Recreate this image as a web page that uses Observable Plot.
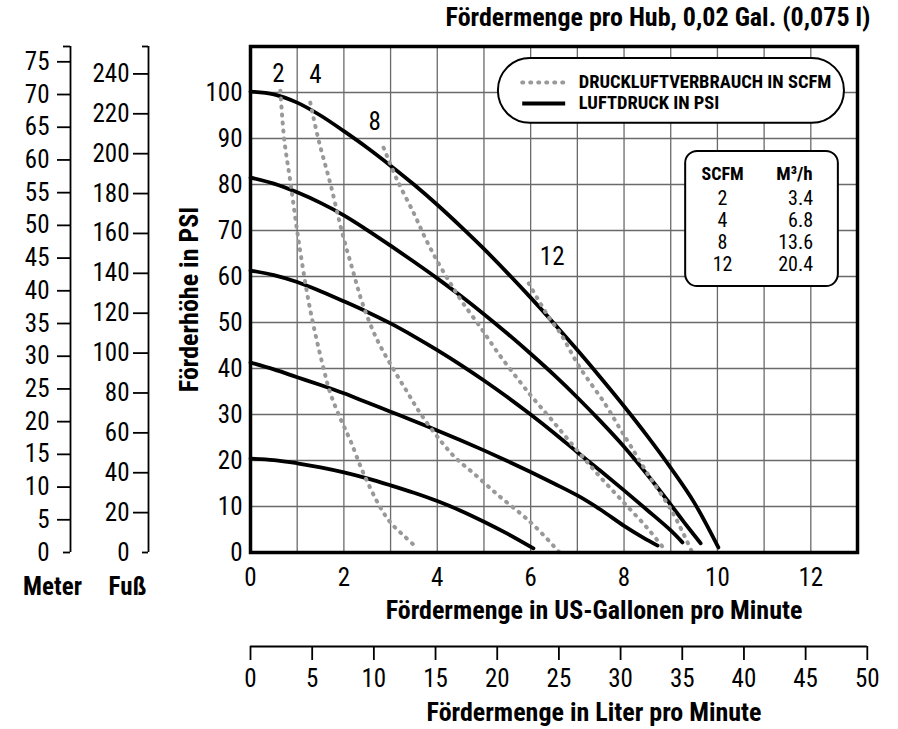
<!DOCTYPE html>
<html><head><meta charset="utf-8">
<script src="https://cdn.jsdelivr.net/npm/d3@7"></script>
<script src="https://cdn.jsdelivr.net/npm/@observablehq/plot@0.6"></script>
<style>html,body{margin:0;padding:0;background:#fff}#chart svg{display:block}</style>
</head><body><div id="chart"></div>
<script>
// ---------- tick values ----------
const galTicks   = [0, 2, 4, 6, 8, 10, 12];
const galGrid    = [1, 2, 3, 4, 5, 6, 7, 8, 9, 10, 11, 12];
const psiTicks   = [0, 10, 20, 30, 40, 50, 60, 70, 80, 90, 100];
const psiGrid    = [10, 20, 30, 40, 50, 60, 70, 80, 90, 100];
const meterTicks = [0, 5, 10, 15, 20, 25, 30, 35, 40, 45, 50, 55, 60, 65, 70, 75];
const feetTicks  = [0, 20, 40, 60, 80, 100, 120, 140, 160, 180, 200, 220, 240];
const literTicks = [0, 5, 10, 15, 20, 25, 30, 35, 40, 45, 50];

// ---------- air pressure curves (US gal/min, PSI) ----------
const psi100 = [[0,100.2],[0.5,99.6],[1,97.8],[1.5,95],[2,91.6],[2.5,88],[3,84.1],[3.5,80],[4,75.6],[4.5,70.9],[5,66],[5.5,60.8],[6,55.4],[6.5,49.8],[7,44],[7.5,38],[8,31.8],[8.5,25.3],[9,18.4],[9.5,10.9],[10.02,1.1]];
const psi80  = [[0,81.5],[0.5,80.2],[1,78.3],[1.5,76],[2,73.3],[2.5,70.1],[3,66.7],[3.5,63.2],[4,59.6],[4.5,55.8],[5,51.8],[5.5,47.6],[6,43.2],[6.5,38.6],[7,33.7],[7.5,28.5],[8,23],[8.5,16.9],[9,10.4],[9.3,6.4],[9.64,2]];
const psi60  = [[0,61.3],[0.5,60.3],[1,58.8],[1.5,56.8],[2,54.6],[2.5,52.3],[3,49.8],[3.5,47],[4,44],[4.5,40.8],[5,37.4],[5.5,33.8],[6,30],[6.5,26],[7,21.8],[7.5,17.7],[8,13.5],[8.5,9.2],[9,4.8],[9.25,2.2]];
const psi40  = [[0,41.3],[0.5,39.8],[1,38.1],[1.5,36.4],[2,34.6],[2.5,32.6],[3,30.6],[3.5,28.6],[4,26.5],[4.5,24.4],[5,22.2],[5.5,19.9],[6,17.5],[6.5,15],[7,12.4],[7.5,9.3],[8,5.8],[8.4,3.3],[8.72,1.5]];
const psi20  = [[0,20.4],[0.5,20.1],[1,19.4],[1.5,18.5],[2,17.4],[2.5,16.1],[3,14.6],[3.5,13],[4,11.2],[4.5,9.1],[5,6.7],[5.5,4.1],[6.06,0.9]];

// ---------- air consumption curves (US gal/min, PSI) ----------
const scfm2  = [[0.64,100.4],[0.72,90],[0.86,80.2],[1.03,67.8],[1.24,54.8],[1.4,47],[1.56,40.2],[1.71,34.6],[1.93,29],[2.14,24.3],[2.42,17.2],[2.78,9.8],[3.0,6.5],[3.3,3.5],[3.58,0.9]];
const scfm4  = [[1.28,97.8],[1.46,89.6],[1.71,80.2],[1.97,69.3],[2.2,61],[2.4,54.1],[2.7,46.5],[3.04,40.2],[3.35,35],[3.64,30.2],[4.07,24.3],[4.4,20.5],[4.78,17.2],[5.3,12.5],[5.78,8.5],[6.1,5.6],[6.62,0]];
const scfm8  = [[2.85,88],[3.14,81],[3.5,73.7],[3.75,68.2],[4.03,62.8],[4.3,58.2],[4.56,54.1],[4.93,48.9],[5.3,43.4],[5.78,37],[6.04,33.7],[6.42,29.2],[7.03,21.8],[7.5,16.3],[8,10.8],[8.5,5.3],[8.89,0.4]];
const scfm12 = [[5.96,58.5],[6.39,51.1],[6.64,47.6],[7.03,40.6],[7.6,32.2],[7.92,26.8],[8.14,23.2],[8.5,17.2],[9.04,8.7],[9.46,0]];

// curve labels (SCFM) at the top of each dashed curve
const curveLabelText = ["2", "4", "8", "12"];
const curveLabelGal  = [0.60, 1.39, 2.66, 6.46];
const curveLabelPsi  = [104.1, 103.7, 93.5, 64.2];

// table SCFM -> m3/h
const tableScfm = ["2", "4", "8", "12"];
const tableM3h  = ["3.4", "6.8", "13.6", "20.4"];

// legend
const legendLabels = ["DRUCKLUFTVERBRAUCH IN SCFM", "LUFTDRUCK IN PSI"];

// unit conversions
const PSI_PER_M = 1.4223, PSI_PER_FT = 0.4335, L_PER_GAL = 3.785;

// ---------- styling ----------
const FONT = "'Roboto Condensed', 'DejaVu Sans Condensed', 'Liberation Sans', sans-serif";
const TICK = 25;
const solid = {stroke: "#000", strokeWidth: 3.8, curve: "catmull-rom", strokeLinejoin: "round"};
const dashed = {stroke: "#999", strokeWidth: 4, strokeDasharray: "1,7", strokeLinecap: "round", curve: "catmull-rom"};
const axisStroke = {stroke: "#000", strokeWidth: 1.8};
const px = d => d[0], py = d => d[1];
const mid = {textAnchor: "middle", lineAnchor: "middle"};

const yMax = 110;

const chart = Plot.plot({
  width: 898, height: 729,
  marginLeft: 250, marginRight: 41, marginTop: 46, marginBottom: 177,
  x: {domain: [0, 13], axis: null},
  y: {domain: [0, yMax], axis: null},
  style: {fontFamily: FONT, fontSize: TICK + "px", color: "#000", background: "#fff", overflow: "visible"},
  marks: [
    // grid
    Plot.ruleX(galGrid, {stroke: "#6a6a6a", strokeWidth: 1.3}),
    Plot.ruleY(psiGrid, {stroke: "#6a6a6a", strokeWidth: 1.3}),

    // legend box
    Plot.rect([0], {x1: 5.31, x2: 12.72, y1: 93.3, y2: 107.4, rx: 32, fill: "#fff", stroke: "#000", strokeWidth: 2}),
    Plot.ruleY([102.2], {x1: 5.83, x2: 6.75, ...dashed}),
    Plot.ruleY([97.6], {x1: 5.83, x2: 6.75, stroke: "#000", strokeWidth: 4}),
    Plot.text(legendLabels, {x: 7.03, y: (d, i) => 102.2 - i * 4.6, textAnchor: "start", fontWeight: "bold", fontSize: 18.5}),

    // table box
    Plot.rect([0], {x1: 9.32, x2: 12.59, y1: 57.8, y2: 87.2, rx: 12, fill: "#fff", stroke: "#000", strokeWidth: 2}),
    Plot.text(["SCFM"], {x: 10.11, y: 82.2, fontWeight: "bold", fontSize: 18}),
    Plot.text(["M³/h"], {x: 11.65, y: 82.3, fontWeight: "bold", fontSize: 19}),
    Plot.text(tableScfm, {x: 10.11, y: (d, i) => 76.9 - i * 4.8, fontSize: 20}),
    Plot.text(tableM3h, {x: 12.05, y: (d, i) => 76.9 - i * 4.8, textAnchor: "end", fontSize: 20}),

    // curves
    ...[psi20, psi40, psi60, psi80, psi100].map(d => Plot.line(d, {x: px, y: py, ...solid})),
    ...[scfm2, scfm4, scfm8, scfm12].map(d => Plot.line(d, {x: px, y: py, ...dashed})),
    Plot.text(curveLabelText, {x: (d, i) => curveLabelGal[i], y: (d, i) => curveLabelPsi[i], fontSize: TICK}),

    // frame
    Plot.frame({stroke: "#000", strokeWidth: 3.5}),

    // main axes
    Plot.axisY(psiTicks, {anchor: "left", tickSize: 0, tickPadding: 8, fontSize: TICK, label: null}),
    Plot.axisX(galTicks, {anchor: "bottom", tickSize: 0, tickPadding: 16, fontSize: TICK, label: null}),

    // meter axis
    Plot.ruleX([0], {y1: 0, y2: yMax, dx: -180, ...axisStroke}),
    Plot.axisY(meterTicks.slice(1), {y: m => m * PSI_PER_M, anchor: "left", dx: -180, tickSize: 13, ...axisStroke, fill: "none", label: null}),
    Plot.axisY([0, yMax / PSI_PER_M], {y: m => m * PSI_PER_M, anchor: "left", dx: -180, tickSize: 7, ...axisStroke, fill: "none", label: null}),
    Plot.axisY(meterTicks, {y: m => m * PSI_PER_M, anchor: "left", dx: -180, tickSize: 0, tickPadding: 21, tickFormat: d => String(d), fontSize: TICK, label: null}),

    // feet axis
    Plot.ruleX([0], {y1: 0, y2: yMax, dx: -102, ...axisStroke}),
    Plot.axisY(feetTicks.slice(1), {y: f => f * PSI_PER_FT, anchor: "left", dx: -102, tickSize: 15, ...axisStroke, fill: "none", label: null}),
    Plot.axisY([0, yMax / PSI_PER_FT], {y: f => f * PSI_PER_FT, anchor: "left", dx: -102, tickSize: 6, ...axisStroke, fill: "none", label: null}),
    Plot.axisY(feetTicks, {y: f => f * PSI_PER_FT, anchor: "left", dx: -102, tickSize: 0, tickPadding: 19, tickFormat: d => String(d), fontSize: TICK, label: null}),

    // liter axis
    Plot.ruleY([0], {x1: literTicks[0] / L_PER_GAL, x2: literTicks[literTicks.length - 1] / L_PER_GAL, dy: 94, ...axisStroke}),
    Plot.axisX(literTicks, {x: l => l / L_PER_GAL, anchor: "bottom", dy: 94, tickSize: 14, tickPadding: 9, ...axisStroke, fill: "#000", tickFormat: d => String(d), fontSize: TICK, label: null}),

    // titles
    Plot.text(["Fördermenge pro Hub, 0,02 Gal. (0,075 l)"], {frameAnchor: "top-right", dx: 13, dy: -29, textAnchor: "end", lineAnchor: "middle", fontWeight: "bold", fontSize: 26}),
    Plot.text(["Förderhöhe in PSI"], {frameAnchor: "left", dx: -61, rotate: -90, ...mid, fontWeight: "bold", fontSize: 26}),
    Plot.text(["Fördermenge in US-Gallonen pro Minute"], {frameAnchor: "bottom", dx: 40, dy: 58, ...mid, fontWeight: "bold", fontSize: 26}),
    Plot.text(["Fördermenge in Liter pro Minute"], {frameAnchor: "bottom", dx: 40, dy: 160, ...mid, fontWeight: "bold", fontSize: 26}),
    Plot.text(["Meter"], {frameAnchor: "bottom-left", dx: -198, dy: 34, ...mid, fontWeight: "bold", fontSize: 25}),
    Plot.text(["Fuß"], {frameAnchor: "bottom-left", dx: -123, dy: 34, ...mid, fontWeight: "bold", fontSize: 25})
  ]
});
document.getElementById("chart").append(chart);
</script></body></html>
